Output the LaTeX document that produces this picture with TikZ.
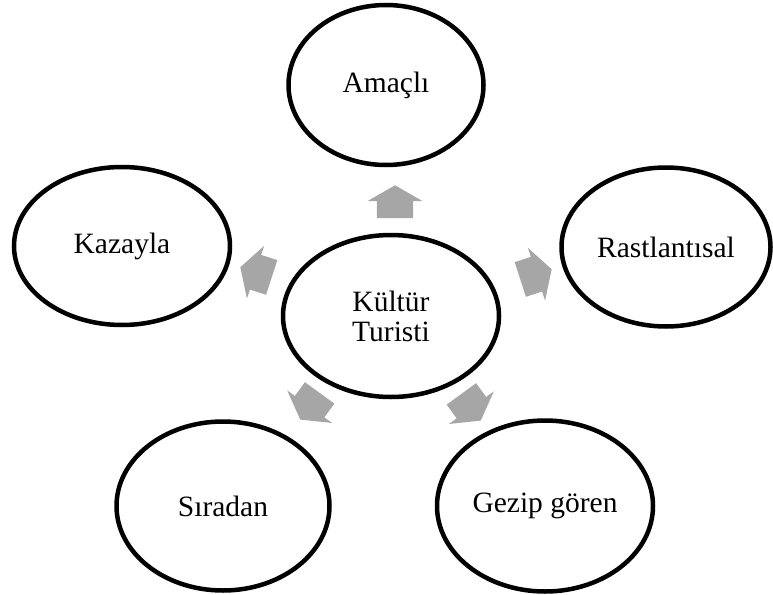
\documentclass[tikz,border=0pt]{standalone}
\usepackage{fontspec}
\setmainfont{Liberation Serif}
\usetikzlibrary{shapes.geometric, shapes.arrows}
\definecolor{arrowgray}{RGB}{166,166,166}

\begin{document}
\begin{tikzpicture}[
    x=1pt, y=-1pt,
    bubble/.style={ellipse, draw=black, line width=4.5pt, fill=white, inner sep=0pt, align=center, font=\fontsize{29.5}{30}\selectfont},
    pointer/.style={single arrow, fill=arrowgray, draw=none, inner xsep=0pt, inner ysep=18pt, minimum height=33pt, single arrow head extend=9.5pt, single arrow tip angle=120},
]
    \useasboundingbox (0,0) rectangle (773,594);

    \node[bubble, minimum width=216pt, minimum height=162pt] (kultur) at (391,316) {Kültür\\Turisti};
    \node[bubble, minimum width=195pt, minimum height=160pt] (amacli) at (386,85) {Amaçlı};
    \node[bubble, minimum width=209pt, minimum height=159pt] (rast) at (666,247) {Rastlantısal};
    \node[bubble, minimum width=216pt, minimum height=158pt] (kazayla) at (122,246) {Kazayla};
    \node[bubble, minimum width=213pt, minimum height=169pt] (siradan) at (223,506) {Sıradan};
    \node[bubble, minimum width=216pt, minimum height=171pt] (gezip) at (545,506) {Gezip gören};

    % arrows pointing out of the centre
    \node[pointer, rotate=90] (ar1) at (395,207) {};
    \node[pointer, rotate=18] (ar2) at (531,276) {};
    \node[pointer, rotate=162] (ar3) at (261,274) {};
    \node[pointer, rotate=234] (ar4) at (313,402) {};
    \node[pointer, rotate=306] (ar5) at (468,403) {};
\end{tikzpicture}
\end{document}
